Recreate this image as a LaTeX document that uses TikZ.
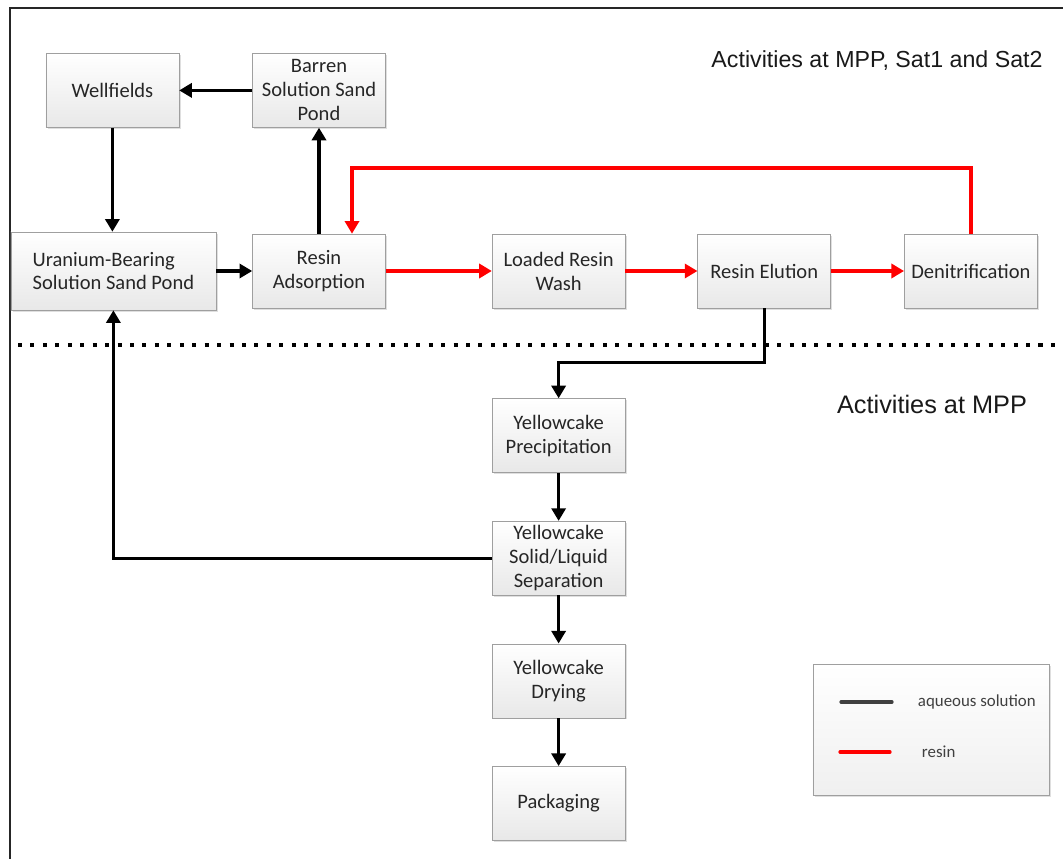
\documentclass[tikz,border=0pt]{standalone}
\usepackage{fontspec}
\setmainfont{Carlito}
\newfontfamily\headfont{Liberation Sans}
\usetikzlibrary{positioning,arrows.meta,shadows}

\begin{document}
\begin{tikzpicture}[
        x=0.025cm, y=-0.025cm,
        box/.style={
            rectangle,
            draw=gray!75,
            top color=white,
            bottom color=gray!18,
            minimum width=3.325cm,
            minimum height=1.85cm,
            inner sep=2pt,
            align=center,
            text=black!85,
            font=\fontsize{14.6}{17}\selectfont,
            drop shadow={shadow xshift=1.2pt, shadow yshift=-1.2pt, opacity=0.25, fill=gray}
        },
        arrow/.style={
            -{Triangle[length=9pt,width=10pt]},
            line width=2.4pt,
            black
        },
        redarrow/.style={
            arrow,
            red
        },
        heading/.style={
            font=\headfont\fontsize{16.5}{19}\selectfont,
            text=black!90
        }
    ]

    % Page frame and margins
    \useasboundingbox (0,0) rectangle (1063,859);
    \draw[line width=1.6pt, black!85] (10,859) -- (10,8) -- (1063,8);

    % Upper row
    \node[box] (adsorb) at (319,271) {Resin\\Adsorption};
    \node[box, right=2.65cm of adsorb] (wash) {Loaded Resin\\Wash};
    \node[box, right=1.8cm of wash] (elution) {Resin Elution};
    \node[box, right=1.825cm of elution] (denit) {Denitrification};
    \node[box, align=left, minimum width=5.125cm, minimum height=1.95cm,
          left=0.9cm of adsorb] (uranium) {Uranium-Bearing\\Solution Sand Pond};

    % Ponds and wellfields
    \node[box, above=2.65cm of adsorb] (barren) {Barren\\Solution Sand\\Pond};
    \node[box, left=1.825cm of barren] (wells) {Wellfields};

    % Yellowcake column
    \node[box, below=2.25cm of wash] (precip) {Yellowcake\\Precipitation};
    \node[box, below=1.2cm of precip] (separation) {Yellowcake\\Solid/Liquid\\Separation};
    \node[box, below=1.2cm of separation] (drying) {Yellowcake\\Drying};
    \node[box, below=1.2cm of drying] (packaging) {Packaging};

    % Site boundary
    \coordinate (lineL) at (18,345);
    \coordinate (lineR) at (1063,345);
    \draw[line width=2.85pt, dash pattern=on 2.85pt off 6pt, black] (lineL) -- (lineR);

    % Headings
    \node[heading] (siteall) at (877,61) {Activities at MPP, Sat1 and Sat2};
    \node[heading, font=\headfont\fontsize{18}{21}\selectfont] (sitempp) at (932,404) {Activities at MPP};

    % Aqueous solution flows
    \draw[arrow] (barren) -- (wells);
    \draw[arrow] (wells) -- (wells |- uranium.north);
    \draw[arrow] (uranium) -- (adsorb);
    \draw[arrow] (adsorb) -- (barren);
    \draw[arrow] (elution.south) -- ++(0,54) -| (precip.north);
    \draw[arrow] (precip) -- (separation);
    \draw[arrow] (separation) -- (drying);
    \draw[arrow] (drying) -- (packaging);
    \draw[arrow] (separation.west) -| (uranium.south);

    % Resin flows
    \draw[redarrow] (adsorb) -- (wash);
    \draw[redarrow] (wash) -- (elution);
    \draw[redarrow] (elution) -- (denit);
    \coordinate (loop) at (352,168);
    \draw[redarrow] (denit.north) |- (loop) -- (loop |- adsorb.north);

    % Legend
    \node[box, minimum width=5.9cm, minimum height=3.275cm, top color=white,
          bottom color=gray!12] (legend) at (931,730) {};
    \draw[line width=2.3pt, black!75, line cap=round] (841,702) -- (892,702);
    \draw[line width=2.3pt, red, line cap=round] (840,752) -- (890,752);
    \node[font=\fontsize{12}{14}\selectfont, text=black!75, anchor=west] (aqueous) at (913,702) {aqueous solution};
    \node[font=\fontsize{12}{14}\selectfont, text=black!75, anchor=west] (resin) at (917,752) {resin};

\end{tikzpicture}
\end{document}
